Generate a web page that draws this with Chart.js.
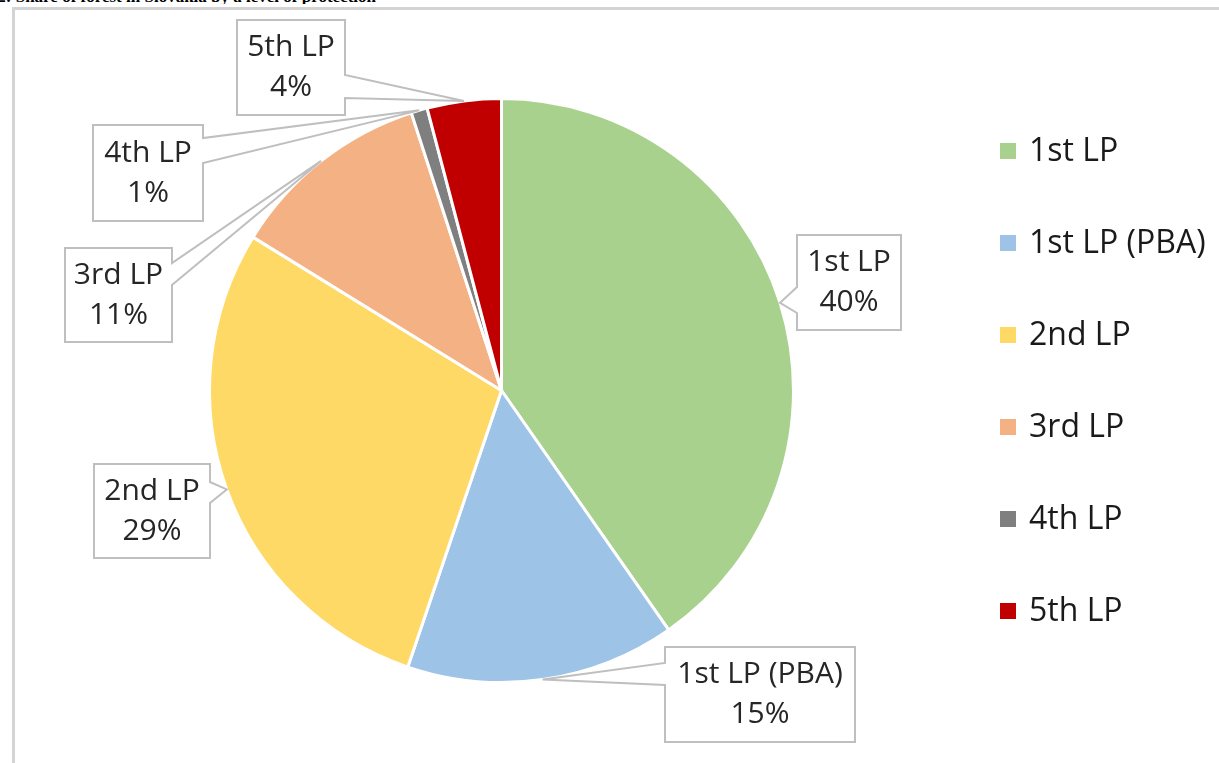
<!DOCTYPE html>
<html>
<head>
<meta charset="utf-8">
<script src="https://cdn.jsdelivr.net/npm/chart.js@4.4.1/dist/chart.umd.min.js"></script>
<style>
html,body{margin:0;padding:0;background:#fff;width:1219px;height:763px;overflow:hidden;}
#cap{position:absolute;left:0;top:-13px;width:376px;height:17px;overflow:hidden;}
#cap span{position:absolute;right:0;top:0;white-space:nowrap;font:bold 17px "Liberation Serif",serif;color:#000;}
#frame{position:absolute;left:12px;top:7px;right:-10px;bottom:-10px;border-left:3px solid #d4d4d4;border-top:3px solid #d4d4d4;}
#c{position:absolute;left:0;top:0;}
</style>
</head>
<body>
<div id="cap"><span>Figure 2: Share of forest in Slovakia by a level of protection</span></div>
<div id="frame"></div>
<canvas id="c" width="1219" height="763"></canvas>
<script>
// ---- data ----
const categories = ["1st LP", "1st LP (PBA)", "2nd LP", "3rd LP", "4th LP", "5th LP"];
const shares = [40.3, 14.9, 28.6, 11.2, 0.9, 4.1];
const colors = ["#a9d18e", "#9dc3e6", "#ffd966", "#f4b183", "#7f7f7f", "#c00000"];

// ---- callout box layout (pixels) ----
const calloutBoxes = [
  {x: 797, y: 235, w: 104, h: 95, side: "left",  b1: 287, b2: 313},
  {x: 665, y: 647, w: 190, h: 95, side: "left",  b1: 663, b2: 685},
  {x: 94,  y: 464, w: 116, h: 94, side: "right", b1: 482, b2: 503},
  {x: 65,  y: 248, w: 107, h: 94, side: "right", b1: 263, b2: 285},
  {x: 93,  y: 125, w: 110, h: 96, side: "right", b1: 138, b2: 163},
  {x: 237, y: 20,  w: 108, h: 95, side: "right", b1: 75,  b2: 98}
];

const calloutPlugin = {
  id: "callouts",
  afterDatasetsDraw(chart) {
    const ctx = chart.ctx;
    const meta = chart.getDatasetMeta(0);
    const data = chart.data.datasets[0].data;
    const total = data.reduce((a, b) => a + b, 0);
    ctx.save();
    meta.data.forEach((arc, i) => {
      const p = arc.getProps(["x", "y", "startAngle", "endAngle", "outerRadius"], true);
      const mid = (p.startAngle + p.endAngle) / 2;
      const tx = p.x + Math.cos(mid) * p.outerRadius;
      const ty = p.y + Math.sin(mid) * p.outerRadius;
      const b = calloutBoxes[i];
      const L = b.x, R = b.x + b.w, T = b.y, B = b.y + b.h;
      ctx.beginPath();
      if (b.side === "right") {
        ctx.moveTo(L, T); ctx.lineTo(R, T); ctx.lineTo(R, b.b1); ctx.lineTo(tx, ty);
        ctx.lineTo(R, b.b2); ctx.lineTo(R, B); ctx.lineTo(L, B); ctx.closePath();
      } else {
        ctx.moveTo(L, T); ctx.lineTo(R, T); ctx.lineTo(R, B); ctx.lineTo(L, B);
        ctx.lineTo(L, b.b2); ctx.lineTo(tx, ty); ctx.lineTo(L, b.b1); ctx.closePath();
      }
      ctx.fillStyle = "#ffffff";
      ctx.fill();
      ctx.lineWidth = 2;
      ctx.strokeStyle = "#bfbfbf";
      ctx.lineJoin = "miter";
      ctx.stroke();
      const cx = L + b.w / 2, cy = T + b.h / 2;
      ctx.fillStyle = "#262626";
      ctx.font = '30px "Open Sans"';
      ctx.textAlign = "center";
      ctx.textBaseline = "middle";
      ctx.fillText(chart.data.labels[i], cx, cy - 20);
      ctx.fillText(Math.round(data[i] / total * 100) + "%", cx, cy + 20);
    });
    ctx.restore();
  }
};

const legendPlugin = {
  id: "sideLegend",
  afterDraw(chart) {
    const ctx = chart.ctx;
    const labels = chart.data.labels;
    const bg = chart.data.datasets[0].backgroundColor;
    ctx.save();
    labels.forEach((lab, i) => {
      const cy = 151 + i * 92;
      ctx.fillStyle = bg[i];
      ctx.fillRect(1000, cy - 8, 16, 16);
      ctx.fillStyle = "#1a1a1a";
      ctx.font = '32px "Open Sans"';
      ctx.textAlign = "left";
      ctx.textBaseline = "middle";
      ctx.fillText(lab, 1029, cy + 1);
    });
    ctx.restore();
  }
};

function build() {
  new Chart(document.getElementById("c"), {
    type: "pie",
    data: {
      labels: categories,
      datasets: [{
        data: shares,
        backgroundColor: colors,
        borderColor: "#ffffff",
        borderWidth: 3
      }]
    },
    options: {
      responsive: false,
      animation: false,
      devicePixelRatio: 1,
      layout: {padding: {left: 208, right: 424, top: 97, bottom: 79}},
      plugins: {legend: {display: false}, tooltip: {enabled: false}}
    },
    plugins: [calloutPlugin, legendPlugin]
  });
}
if (document.fonts && document.fonts.load) {
  Promise.all([document.fonts.load('30px "Open Sans"'), document.fonts.load('32px "Open Sans"')]).then(build, build);
} else { build(); }
</script>
</body>
</html>
